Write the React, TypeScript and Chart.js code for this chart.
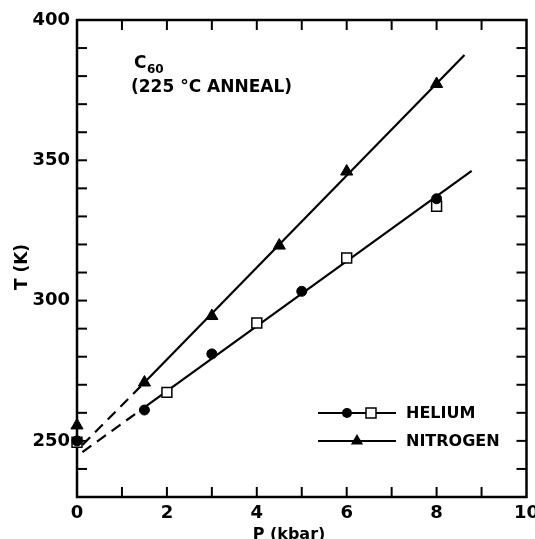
import { useEffect, useRef } from 'react';
import { Chart, registerables } from 'chart.js';

Chart.register(...registerables);

// ---- data ----
const heliumCircleP = [0, 1.5, 3, 5, 8];
const heliumCircleT = [250, 261, 281, 303.3, 336.3];
const heliumSquareP = [0, 2, 4, 6, 8];
const heliumSquareT = [249.5, 267.3, 292, 315.2, 333.6];
const nitrogenP = [0, 1.5, 3, 4.5, 6, 8];
const nitrogenT = [255.5, 270.8, 294.5, 319.6, 346.0, 377.2];

const heliumFitSolidP = [1.46, 8.78];
const heliumFitSolidT = [261.5, 346.2];
const heliumFitDashP = [0.12, 1.46];
const heliumFitDashT = [246, 261.5];
const nitrogenFitSolidP = [1.5, 8.62];
const nitrogenFitSolidT = [270.8, 387.5];
const nitrogenFitDashP = [0.12, 1.5];
const nitrogenFitDashT = [248.5, 270.8];

const xMajorTicks = [0, 2, 4, 6, 8, 10];
const yMajorTicks = [250, 300, 350, 400];

const FONT = 'DejaVu Sans';

const pts = (xs: number[], ys: number[]) => xs.map((x, i) => ({ x, y: ys[i] }));

const framePlugin = {
  id: 'frame',
  beforeDatasetsDraw(chart: any) {
    const { ctx, chartArea: a, scales } = chart;
    const xs = scales.x;
    const ys = scales.y;
    ctx.save();
    ctx.strokeStyle = '#000';
    ctx.lineWidth = 2.5;
    ctx.strokeRect(a.left, a.top, a.right - a.left, a.bottom - a.top);
    ctx.lineWidth = 2;
    const tl = 10;
    const seg = (x1: number, y1: number, x2: number, y2: number) => {
      ctx.beginPath();
      ctx.moveTo(x1, y1);
      ctx.lineTo(x2, y2);
      ctx.stroke();
    };
    xs.ticks.forEach((t: any) => {
      const px = xs.getPixelForValue(t.value);
      if (px <= a.left + 1 || px >= a.right - 1) return;
      seg(px, a.bottom, px, a.bottom - tl);
      seg(px, a.top, px, a.top + tl);
    });
    ys.ticks.forEach((t: any) => {
      const py = ys.getPixelForValue(t.value);
      if (py <= a.top + 1 || py >= a.bottom - 1) return;
      seg(a.left, py, a.left + tl, py);
      seg(a.right, py, a.right - tl, py);
    });
    ctx.restore();
  },
  afterDraw(chart: any) {
    const { ctx, chartArea: a } = chart;
    ctx.save();
    ctx.fillStyle = '#000';
    ctx.strokeStyle = '#000';

    // axis titles
    ctx.font = `bold 16px "${FONT}"`;
    ctx.textAlign = 'center';
    ctx.textBaseline = 'alphabetic';
    ctx.fillText('P (kbar)', 289, 539);
    ctx.save();
    ctx.font = `bold 17px "${FONT}"`;
    ctx.translate(27, 267);
    ctx.rotate(-Math.PI / 2);
    ctx.fillText('T (K)', 0, 0);
    ctx.restore();

    // annotation
    ctx.textAlign = 'left';
    ctx.font = `bold 17px "${FONT}"`;
    ctx.fillText('C', a.left + 57, 68);
    ctx.font = `bold 12px "${FONT}"`;
    ctx.fillText('60', a.left + 70, 73);
    ctx.font = `bold 17px "${FONT}"`;
    ctx.fillText('(225 °C ANNEAL)', a.left + 54, 92);

    // legend
    const lx1 = a.left + 241;
    const lx2 = a.left + 319;
    const hy = 413;
    const ny = 441;
    ctx.lineWidth = 2.2;
    ctx.beginPath();
    ctx.moveTo(lx1, hy);
    ctx.lineTo(lx2, hy);
    ctx.moveTo(lx1, ny);
    ctx.lineTo(lx2, ny);
    ctx.stroke();
    // filled circle
    ctx.beginPath();
    ctx.arc(a.left + 270, hy, 5, 0, Math.PI * 2);
    ctx.fill();
    // open square
    ctx.fillStyle = '#fff';
    ctx.fillRect(a.left + 289, hy - 5, 10, 10);
    ctx.lineWidth = 1.5;
    ctx.strokeRect(a.left + 289, hy - 5, 10, 10);
    ctx.fillStyle = '#000';
    // triangle
    const tx = a.left + 280;
    ctx.beginPath();
    ctx.moveTo(tx, ny - 7);
    ctx.lineTo(tx + 6.1, ny + 3.5);
    ctx.lineTo(tx - 6.1, ny + 3.5);
    ctx.closePath();
    ctx.fill();
    ctx.font = `bold 16px "${FONT}"`;
    ctx.textBaseline = 'middle';
    ctx.fillText('HELIUM', a.left + 329, hy + 1);
    ctx.fillText('NITROGEN', a.left + 329, ny + 1);
    ctx.restore();
  },
};

export default function App() {
  const ref = useRef<HTMLCanvasElement | null>(null);

  useEffect(() => {
    if (!ref.current) return;
    const lineBase = {
      type: 'line' as const,
      showLine: true,
      borderColor: '#000',
      borderWidth: 2.2,
      pointRadius: 0,
      fill: false,
      clip: false as any,
      order: 10,
    };
    const chart = new Chart(ref.current, {
      type: 'scatter',
      data: {
        datasets: [
          { ...lineBase, label: 'He fit', data: pts(heliumFitSolidP, heliumFitSolidT) },
          { ...lineBase, label: 'He fit ext', data: pts(heliumFitDashP, heliumFitDashT), borderDash: [11, 7] },
          { ...lineBase, label: 'N2 fit', data: pts(nitrogenFitSolidP, nitrogenFitSolidT) },
          { ...lineBase, label: 'N2 fit ext', data: pts(nitrogenFitDashP, nitrogenFitDashT), borderDash: [11, 7] },
          {
            label: 'HELIUM (square)',
            data: pts(heliumSquareP, heliumSquareT),
            pointStyle: 'rect',
            pointRadius: 7,
            pointBackgroundColor: '#fff',
            pointBorderColor: '#000',
            pointBorderWidth: 1.5,
            clip: false as any,
            order: 3,
          },
          {
            label: 'HELIUM',
            data: pts(heliumCircleP, heliumCircleT),
            pointStyle: 'circle',
            pointRadius: 5,
            pointBackgroundColor: '#000',
            pointBorderColor: '#000',
            pointBorderWidth: 1,
            clip: false as any,
            order: 2,
          },
          {
            label: 'NITROGEN',
            data: pts(nitrogenP, nitrogenT),
            pointStyle: 'triangle',
            pointRadius: 7,
            pointBackgroundColor: '#000',
            pointBorderColor: '#000',
            pointBorderWidth: 1,
            clip: false as any,
            order: 1,
          },
        ] as any,
      },
      options: {
        animation: false,
        responsive: false,
        maintainAspectRatio: false,
        layout: { padding: { top: 20, right: 8, left: 0, bottom: 0 } },
        plugins: {
          legend: { display: false },
          tooltip: { enabled: false },
          title: { display: false },
        },
        scales: {
          x: {
            type: 'linear',
            min: 0,
            max: 10,
            border: { display: false },
            grid: { display: false, drawTicks: false },
            ticks: {
              stepSize: 1,
              autoSkip: false,
              maxRotation: 0,
              padding: 6,
              color: '#000',
              font: { family: FONT, size: 18, weight: 'bold' },
              callback: (v: any) => (xMajorTicks.includes(Number(v)) ? String(v) : ''),
            },
            afterFit: (s: any) => {
              s.height = 42;
              s.paddingLeft = 0;
              s.paddingRight = 0;
            },
          },
          y: {
            type: 'linear',
            min: 230,
            max: 400,
            border: { display: false },
            grid: { display: false, drawTicks: false },
            ticks: {
              stepSize: 10,
              autoSkip: false,
              padding: 7,
              color: '#000',
              font: { family: FONT, size: 18, weight: 'bold' },
              callback: (v: any) => (yMajorTicks.includes(Number(v)) ? String(v) : ''),
            },
            afterFit: (s: any) => {
              s.width = 77;
              s.paddingTop = 0;
              s.paddingBottom = 0;
            },
          },
        },
      },
      plugins: [framePlugin],
    });
    return () => chart.destroy();
  }, []);

  return (
    <div style={{ position: 'absolute', left: 0, top: 0, width: 535, height: 539, background: '#fff' }}>
      <canvas ref={ref} width={535} height={539} />
    </div>
  );
}
